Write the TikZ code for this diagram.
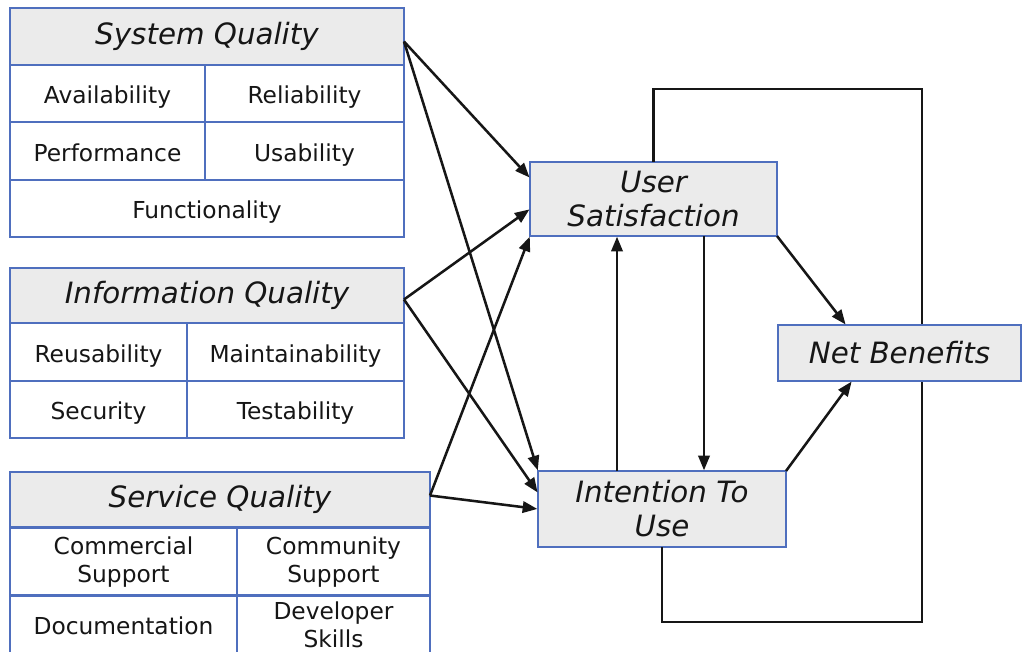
\documentclass[tikz,border=0pt]{standalone}
\usepackage{fontspec}
\setmainfont{DejaVu Sans}
\usetikzlibrary{calc,arrows.meta}
\definecolor{frame}{RGB}{79,111,190}
\definecolor{headfill}{RGB}{235,235,235}
\definecolor{ink}{RGB}{22,22,22}
\begin{document}
\begin{tikzpicture}[x=0.75pt,y=-0.75pt,
  cell/.style={draw=frame,line width=2.2pt,inner sep=0pt,outer sep=0pt,
    text=ink,align=center,font=\fontsize{17.5}{21}\selectfont},
  one/.style={cell,text height=15pt,text depth=0pt},
  head/.style={cell,fill=headfill,font=\fontsize{22}{25.5}\selectfont\itshape},
  size/.style 2 args={minimum width=#1*0.75pt,minimum height=#2*0.75pt},
  link/.style={draw=ink,line width=1.9pt,shorten >=0.5pt,
    -{Triangle[length=11pt,width=8.5pt]}},
  feedback/.style={draw=ink,line width=1.9pt}]
\useasboundingbox (0,0) rectangle (1023,651);

% System Quality
\node[head, size={394}{57}] (sqh) at (207,36.5)  {System Quality};
\node[one, size={195}{57}] (sq1) at (107.5,93.5) {Availability};
\node[one, size={199}{57}] (sq2) at (304.5,93.5) {Reliability};
\node[one, size={195}{58}] (sq3) at (107.5,151) {Performance};
\node[one, size={199}{58}] (sq4) at (304.5,151) {Usability};
\node[one, size={394}{57}] (sq5) at (207,208.5) {Functionality};

% Information Quality
\node[head, size={394}{55}] (iqh) at (207,295.5)   {Information Quality};
\node[one, size={177}{58}] (iq1) at (98.5,352)    {Reusability};
\node[one, size={217}{58}] (iq2) at (295.5,352)   {Maintainability};
\node[one, size={177}{57}] (iq3) at (98.5,409.5)  {Security};
\node[one, size={217}{57}] (iq4) at (295.5,409.5) {Testability};

% Service Quality
\node[head, size={420}{55}] (svh) at (220,499.5)   {Service Quality};
\node[cell, size={227}{68}] (sv1) at (123.5,562)   {Commercial\\Support};
\node[cell, size={193}{68}] (sv2) at (333.5,562)   {Community\\Support};
\node[one,  size={227}{59}] (sv3) at (123.5,624.5) {Documentation};
\node[cell, size={193}{59}] (sv4) at (333.5,624.5) {Developer\\Skills};

% Outcome constructs
\node[head, size={247}{74}] (us)  at (653.5,199) {User\\Satisfaction};
\node[head, size={248}{76}] (itu) at (662,509)   {Intention To\\Use};

% Feedback loop behind Net Benefits
\coordinate (lt) at (922,89);
\coordinate (lb) at (922,622);
\draw[feedback] (us.north) |- (lt) -- (lb) -| (itu.south);

\node[head, size={243}{56}] (nb) at (899.5,353) {Net Benefits};

% Helper columns for the vertical links
\coordinate (xa) at (617,0);
\coordinate (xb) at (704,0);

% Links
\draw[link] ($(sqh.east)+(0,5)$) -- ($(us.west)+(0,-21)$);
\draw[link] ($(sqh.east)+(0,5)$) -- (itu.north west);
\draw[link] ($(iqh.east)+(0,4)$) -- ($(us.west)+(0,10)$);
\draw[link] ($(iqh.east)+(0,4)$) -- ($(itu.west)+(0,-16)$);
\draw[link] ($(svh.east)+(0,-4)$) -- (us.south west);
\draw[link] ($(svh.east)+(0,-4)$) -- (itu.west);
\draw[link] (itu.north -| xa) -- (us.south -| xa);
\draw[link] (us.south -| xb) -- (itu.north -| xb);
\draw[link] (us.south east) -- ($(nb.north west)+(68,0)$);
\draw[link] (itu.north east) -- ($(nb.south west)+(74,0)$);
\end{tikzpicture}
\end{document}
